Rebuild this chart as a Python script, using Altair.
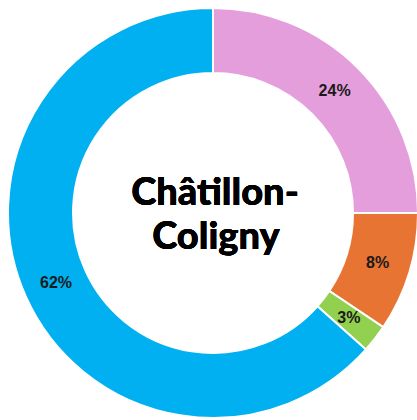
import altair as alt
import pandas as pd

categories = ["Rose", "Orange", "Vert", "Bleu"]
values = [25.0, 9.4, 2.2, 63.4]
labels = ["24%", "8%", "3%", "62%"]
colors = ["#E39EDB", "#E87433", "#92D050", "#00B0F0"]
title_lines = ["Châtillon-", "Coligny"]

df = pd.DataFrame({
    "cat": categories,
    "value": values,
    "label": labels,
    "idx": list(range(len(categories))),
})

CX, CY = 213, 213

base = alt.Chart(df).encode(
    theta=alt.Theta("value:Q", stack=True),
    order=alt.Order("idx:Q"),
)

arcs = base.mark_arc(innerRadius=140, outerRadius=205, stroke="white", strokeWidth=2).encode(
    color=alt.Color("cat:N", scale=alt.Scale(domain=categories, range=colors), legend=None),
    x=alt.value(CX),
    y=alt.value(CY),
)

text = base.mark_text(radius=172, font="Liberation Sans", fontWeight="bold", fontSize=16,
                      color="#1a1a1a").encode(
    text="label:N",
    x=alt.value(CX),
    y=alt.value(CY),
)

t1 = alt.Chart(df).mark_text(text=title_lines[0], font="Lato", fontWeight=900, fontSize=38,
                             baseline="alphabetic", align="center", color="black").encode(
    x=alt.value(215), y=alt.value(205))
t2 = alt.Chart(df).mark_text(text=title_lines[1], font="Lato", fontWeight=900, fontSize=38,
                             baseline="alphabetic", align="center", color="black").encode(
    x=alt.value(216), y=alt.value(249))

chart = alt.layer(arcs, text, t1, t2).properties(
    width=417, height=420, padding=0, autosize=alt.AutoSizeParams(type="none"),
    background="white",
).configure_view(stroke=None)

chart.save("out.html", embed_options={"renderer": "svg", "actions": False})
